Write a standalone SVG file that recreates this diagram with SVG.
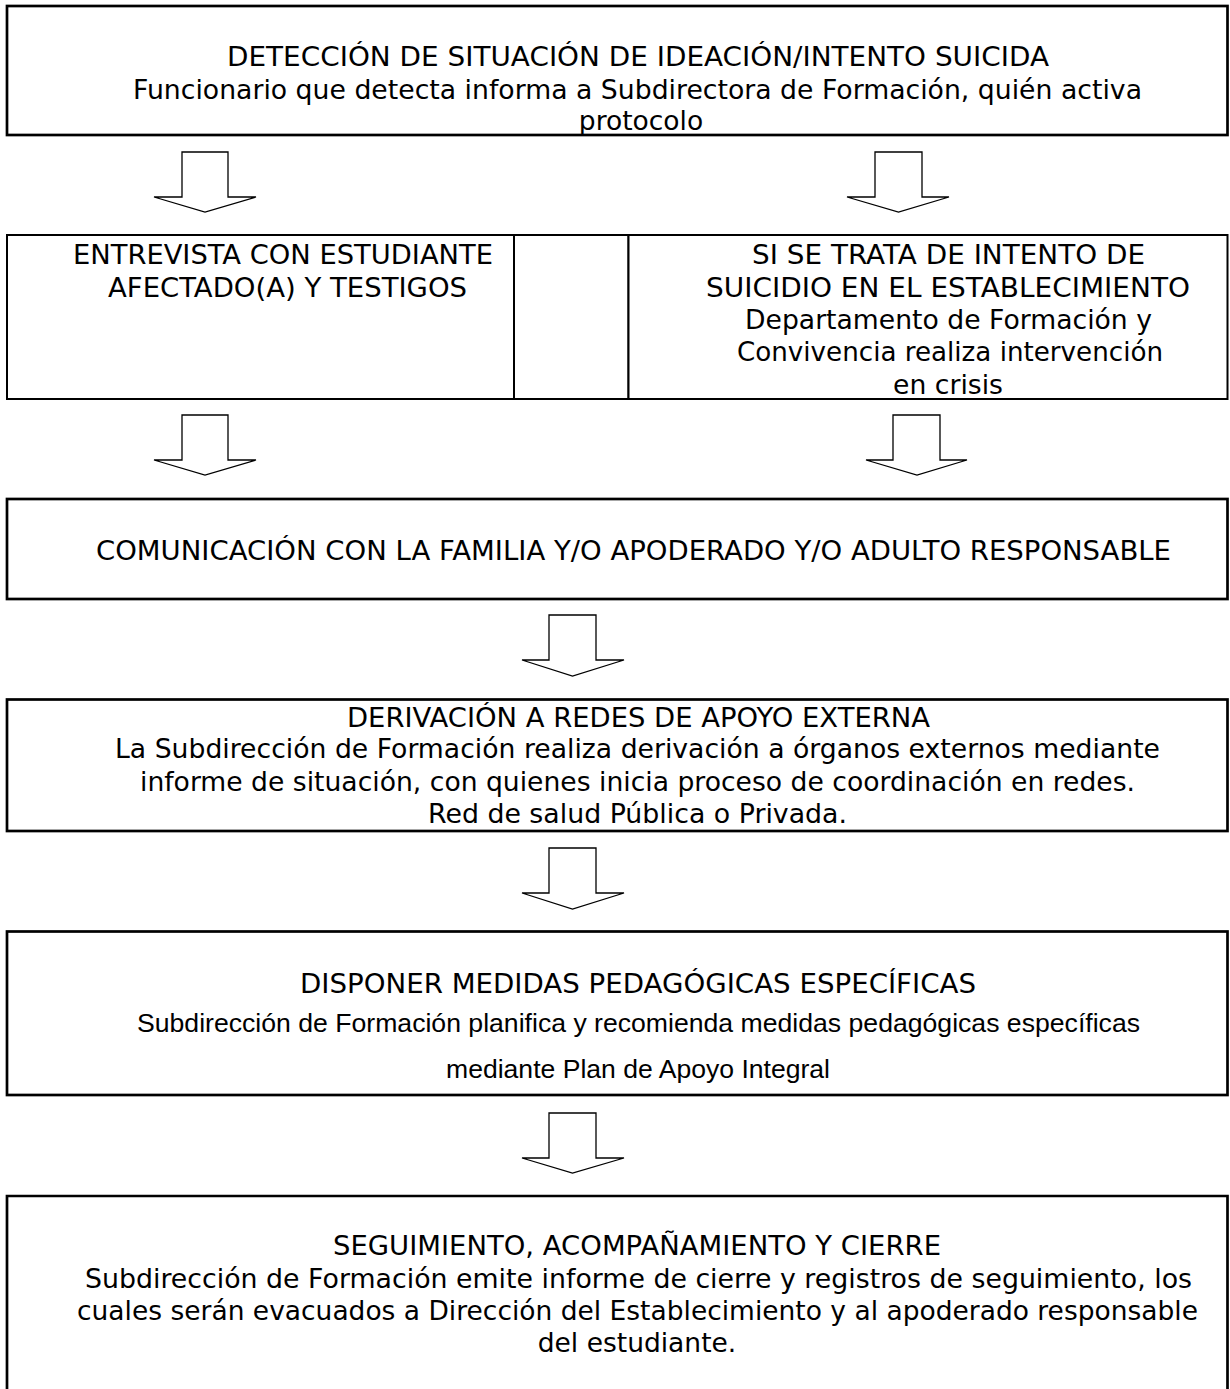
<svg xmlns="http://www.w3.org/2000/svg" width="1230" height="1389" viewBox="0 0 1230 1389">
<style>
.box{fill:#fff;stroke:#000;stroke-width:2.7}
.box2{fill:#fff;stroke:#000;stroke-width:2}
.arr{fill:#fff;stroke:#000;stroke-width:1.3;stroke-linejoin:miter}
.t{font-family:"DejaVu Sans",Verdana,sans-serif;font-size:26.5px;fill:#000}
.a{font-family:"Liberation Sans",Arial,sans-serif;font-size:26px;fill:#000}
.m{text-anchor:middle}
</style>
<rect width="1230" height="1389" fill="#fff"/>
<g id="n1">
<rect class="box" x="7" y="6" width="1220.5" height="129"/>
<text class="t" x="227" y="66" textLength="822" lengthAdjust="spacingAndGlyphs">DETECCIÓN DE SITUACIÓN DE IDEACIÓN/INTENTO SUICIDA</text>
<text class="t" x="133" y="98.5" textLength="1009" lengthAdjust="spacingAndGlyphs">Funcionario que detecta informa a Subdirectora de Formación, quién activa</text>
<text class="t m" x="641" y="130">protocolo</text>
</g>
<g id="n2">
<rect class="box2" x="7" y="235" width="507" height="164"/>
<text class="t" x="73" y="264" textLength="420" lengthAdjust="spacingAndGlyphs">ENTREVISTA CON ESTUDIANTE</text>
<text class="t" x="108" y="296.5" textLength="359" lengthAdjust="spacingAndGlyphs">AFECTADO(A) Y TESTIGOS</text>
</g>
<g id="n3">
<rect class="box2" x="514" y="235" width="114.5" height="164"/>
</g>
<g id="n4">
<rect class="box2" x="628.5" y="235" width="599" height="164"/>
<text class="t" x="752" y="263.5" textLength="393" lengthAdjust="spacingAndGlyphs">SI SE TRATA DE INTENTO DE</text>
<text class="t" x="706" y="296.5" textLength="484" lengthAdjust="spacingAndGlyphs">SUICIDIO EN EL ESTABLECIMIENTO</text>
<text class="t" x="745" y="328.5" textLength="407" lengthAdjust="spacingAndGlyphs">Departamento de Formación y</text>
<text class="t" x="737" y="361" textLength="426" lengthAdjust="spacingAndGlyphs">Convivencia realiza intervención</text>
<text class="t" x="893" y="393.5" textLength="110" lengthAdjust="spacingAndGlyphs">en crisis</text>
</g>
<g id="n5">
<rect class="box" x="7" y="499" width="1220.5" height="100"/>
<text class="t" x="96" y="560" textLength="1075" lengthAdjust="spacingAndGlyphs">COMUNICACIÓN CON LA FAMILIA Y/O APODERADO Y/O ADULTO RESPONSABLE</text>
</g>
<g id="n6">
<rect class="box" x="7" y="699.5" width="1220.5" height="131.5"/>
<text class="t" x="347" y="726.5" textLength="583" lengthAdjust="spacingAndGlyphs">DERIVACIÓN A REDES DE APOYO EXTERNA</text>
<text class="t" x="115" y="758" textLength="1045" lengthAdjust="spacingAndGlyphs">La Subdirección de Formación realiza derivación a órganos externos mediante</text>
<text class="t" x="140" y="791" textLength="995" lengthAdjust="spacingAndGlyphs">informe de situación, con quienes inicia proceso de coordinación en redes.</text>
<text class="t" x="428" y="823" textLength="419" lengthAdjust="spacingAndGlyphs">Red de salud Pública o Privada.</text>
</g>
<g id="n7">
<rect class="box" x="7" y="931.5" width="1220.5" height="163.5"/>
<text class="t" x="300" y="992.5" textLength="676" lengthAdjust="spacingAndGlyphs">DISPONER MEDIDAS PEDAGÓGICAS ESPECÍFICAS</text>
<text class="a" x="137" y="1031.5" textLength="1003" lengthAdjust="spacingAndGlyphs">Subdirección de Formación planifica y recomienda medidas pedagógicas específicas</text>
<text class="a" x="446" y="1078" textLength="384" lengthAdjust="spacingAndGlyphs">mediante Plan de Apoyo Integral</text>
</g>
<g id="n8">
<path class="box" d="M7,1400 V1196 H1227.5 V1400"/>
<text class="t" x="333" y="1255" textLength="608" lengthAdjust="spacingAndGlyphs">SEGUIMIENTO, ACOMPAÑAMIENTO Y CIERRE</text>
<text class="t" x="85" y="1288" textLength="1107" lengthAdjust="spacingAndGlyphs">Subdirección de Formación emite informe de cierre y registros de seguimiento, los</text>
<text class="t" x="77" y="1320" textLength="1121" lengthAdjust="spacingAndGlyphs">cuales serán evacuados a Dirección del Establecimiento y al apoderado responsable</text>
<text class="t m" x="637" y="1352">del estudiante.</text>
</g>
<g id="connectors">
<path class="arr" d="M182,152 H228 V197 H256 L205,212 L154,197 H182 Z"/>
<path class="arr" d="M875,152 H922 V197 H949 L898.5,212 L847,197 H875 Z"/>
<path class="arr" d="M182,415 H228 V460 H256 L205,475 L154,460 H182 Z"/>
<path class="arr" d="M893,415 H940 V460 H967 L917,475 L866,460 H893 Z"/>
<path class="arr" d="M549,615 H596 V660 H624 L572.5,676 L522,660 H549 Z"/>
<path class="arr" d="M549,848 H596 V893 H624 L572.5,909 L522,893 H549 Z"/>
<path class="arr" d="M549,1113 H596 V1158 H624 L572.5,1173 L522,1158 H549 Z"/>
</g>
</svg>
